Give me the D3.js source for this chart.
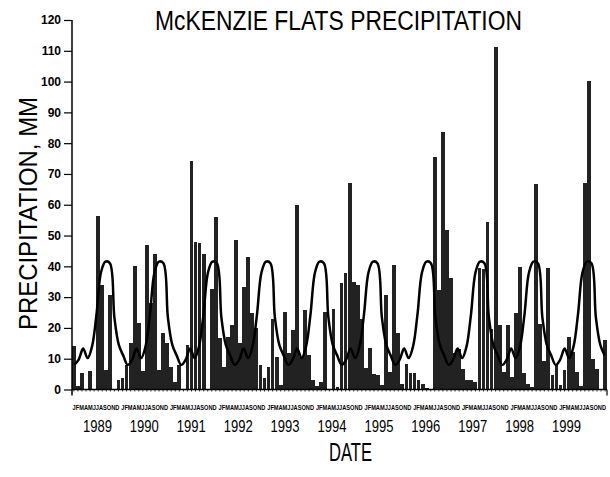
<!DOCTYPE html>
<html>
<head>
<meta charset="utf-8">
<script src="https://cdn.jsdelivr.net/npm/d3@7/dist/d3.min.js"></script>
<style>
  html, body { margin: 0; padding: 0; background: #fff; }
  svg { display: block; }
</style>
</head>
<body>
<svg id="chart" width="610" height="477"></svg>
<script>
// Monthly precipitation totals (mm), January 1989 through December 1999, one row per year
const monthlyPrecip = [
  14.1, 1.2, 5.4, 0, 6.0, 0, 56.5, 34.0, 6.3, 30.6, 0, 3.2,          // 1989
  3.6, 8.0, 15.2, 40.0, 21.6, 6.0, 47.0, 28.0, 44.0, 6.3, 18.4, 15.2, // 1990
  7.4, 2.3, 7.9, 0, 14.5, 74.2, 47.8, 47.5, 44.1, 0, 32.8, 56.0,      // 1991
  16.6, 7.3, 17.1, 21.0, 48.7, 15.0, 33.2, 43.1, 25.0, 20.0, 8.0, 3.6, // 1992
  7.3, 23.0, 10.5, 1.4, 25.1, 11.7, 19.3, 59.8, 10.6, 25.7, 11.2, 3.0, // 1993
  1.0, 2.5, 25.2, 0, 26.3, 0.8, 34.6, 37.7, 67.1, 34.9, 33.9, 23.0,   // 1994
  7.0, 13.6, 5.0, 4.6, 1.4, 30.6, 5.7, 40.4, 18.2, 1.7, 8.4, 5.5,     // 1995
  5.5, 3.2, 1.9, 0.5, 0, 75.5, 32.2, 83.5, 51.9, 36.2, 11.7, 13.3,    // 1996
  6.8, 3.0, 3.2, 2.5, 39.3, 39.0, 54.4, 19.8, 111.2, 20.9, 5.7, 20.9, // 1997
  4.1, 24.7, 39.8, 5.2, 1.9, 0.8, 66.7, 21.4, 9.3, 39.3, 4.6, 7.9,    // 1998
  1.3, 6.3, 17.1, 12.2, 5.7, 1.2, 67.1, 100.1, 10.0, 6.5, 0, 16.2     // 1999
];

// Long-term mean precipitation for each calendar month (mm)
const meanMonthly = [8.0, 9.7, 13.3, 10.2, 14.0, 24.5, 38.0, 41.5, 41.0, 23.5, 14.5, 11.0];
const meanCycles = 10;

const years = ["1989", "1990", "1991", "1992", "1993", "1994", "1995", "1996", "1997", "1998", "1999"];
const monthLetters = ["J", "F", "M", "A", "M", "J", "J", "A", "S", "O", "N", "D"];
const yTickValues = [0, 10, 20, 30, 40, 50, 60, 70, 80, 90, 100, 110, 120];

const titleText = "McKENZIE FLATS PRECIPITATION";
const yTitleText = "PRECIPITATION, MM";
const xTitleText = "DATE";

// Plot frame
const plotLeft = 72, plotRight = 607, plotBottom = 389.5, plotTop = 20;
const ink = "#000";
const barFill = "#222";

const svg = d3.select("#chart");

const y = d3.scaleLinear().domain([0, 120]).range([plotBottom, plotTop]);

const monthIndex = d3.range(monthlyPrecip.length);
const x = d3.scaleBand().domain(monthIndex).range([plotLeft, plotRight]).paddingInner(0.07).paddingOuter(0);

// Bars
svg.append("g")
  .attr("shape-rendering", "crispEdges")
  .selectAll("rect")
  .data(monthIndex)
  .join("rect")
  .attr("x", i => x(i))
  .attr("width", x.bandwidth())
  .attr("y", i => y(monthlyPrecip[i]))
  .attr("height", i => y(0) - y(monthlyPrecip[i]))
  .attr("fill", barFill);

// Mean monthly cycle, repeated across the axis
const cyclePoints = d3.range(meanCycles * 12).map(k => ({ k, v: meanMonthly[k % 12] }));
const xCycle = d3.scaleLinear().domain([0, meanCycles * 12]).range([plotLeft, plotRight]);
const line = d3.line()
  .x(d => xCycle(d.k + 0.5))
  .y(d => y(d.v))
  .curve(d3.curveCatmullRom.alpha(0.5));
svg.append("path")
  .datum(cyclePoints)
  .attr("d", line)
  .attr("fill", "none")
  .attr("stroke", ink)
  .attr("stroke-width", 2.5)
  .attr("stroke-linejoin", "round");

// Y axis
const yAxis = d3.axisLeft(y).tickValues(yTickValues).tickSize(8).tickPadding(3);
const gy = svg.append("g").attr("transform", `translate(${plotLeft},0)`).call(yAxis);
gy.select(".domain").remove();
gy.selectAll(".tick line").attr("stroke", ink).attr("stroke-width", 1.2);
gy.selectAll(".tick text")
  .attr("fill", ink)
  .attr("font-family", "'Liberation Sans', Arial, sans-serif")
  .attr("font-weight", "bold")
  .attr("font-size", 12);
svg.append("line")
  .attr("x1", plotLeft).attr("x2", plotLeft)
  .attr("y1", y(120)).attr("y2", plotBottom + 6)
  .attr("stroke", ink).attr("stroke-width", 1.5);

// X axis with a small tick for every month
const xAxis = d3.axisBottom(x).tickValues(monthIndex).tickSize(2).tickFormat("");
const gx = svg.append("g").attr("transform", `translate(0,${plotBottom})`).call(xAxis);
gx.select(".domain").remove();
gx.selectAll(".tick line").attr("stroke", ink).attr("stroke-width", 0.8);
svg.append("line")
  .attr("x1", plotLeft).attr("x2", plotRight)
  .attr("y1", plotBottom).attr("y2", plotBottom)
  .attr("stroke", ink).attr("stroke-width", 1.5);
svg.append("line")
  .attr("x1", plotRight).attr("x2", plotRight)
  .attr("y1", plotBottom).attr("y2", plotBottom + 6)
  .attr("stroke", ink).attr("stroke-width", 1.2);

// Month initials: one run of twelve letters per year, squeezed horizontally under that year's bars
const yearStarts = d3.range(years.length).map(k => k * 12);
const runs = svg.append("g")
  .attr("opacity", 0.99)
  .selectAll("text")
  .data(yearStarts)
  .join("text")
  .attr("font-family", "'Liberation Sans', Arial, sans-serif")
  .attr("font-weight", "bold")
  .attr("font-size", 7.5)
  .attr("fill", ink)
  .text(() => monthLetters.join(""));
runs.each(function (s) {
  const natural = this.getComputedTextLength();
  const target = x(s + 11) + x.bandwidth() - x(s) - 1.5;
  d3.select(this).attr("transform",
    `translate(${x(s) + 0.6},${plotBottom + 20}) scale(${target / natural},1)`);
});

// Year labels
const xYear = d3.scaleBand().domain(years).range([74, 590]);
svg.append("g")
  .selectAll("text")
  .data(years)
  .join("text")
  .attr("x", d => xYear(d) + xYear.bandwidth() / 2 - 14.5)
  .attr("y", 432)
  .attr("textLength", 29)
  .attr("lengthAdjust", "spacingAndGlyphs")
  .attr("font-family", "'Liberation Sans', Arial, sans-serif")
  .attr("font-size", 17)
  .attr("fill", ink)
  .text(d => d);

// Titles
const titleFont = "'Liberation Sans', Arial, sans-serif";
svg.append("text")
  .attr("x", 155).attr("y", 30)
  .attr("textLength", 367).attr("lengthAdjust", "spacingAndGlyphs")
  .attr("font-family", titleFont).attr("font-size", 27).attr("fill", ink)
  .text(titleText);

svg.append("text")
  .attr("transform", "translate(37,330) rotate(-90)")
  .attr("textLength", 233).attr("lengthAdjust", "spacingAndGlyphs")
  .attr("font-family", titleFont).attr("font-size", 26).attr("fill", ink)
  .text(yTitleText);

svg.append("text")
  .attr("x", 329).attr("y", 461)
  .attr("textLength", 43).attr("lengthAdjust", "spacingAndGlyphs")
  .attr("font-family", titleFont).attr("font-size", 26).attr("fill", ink)
  .text(xTitleText);
</script>
</body>
</html>
